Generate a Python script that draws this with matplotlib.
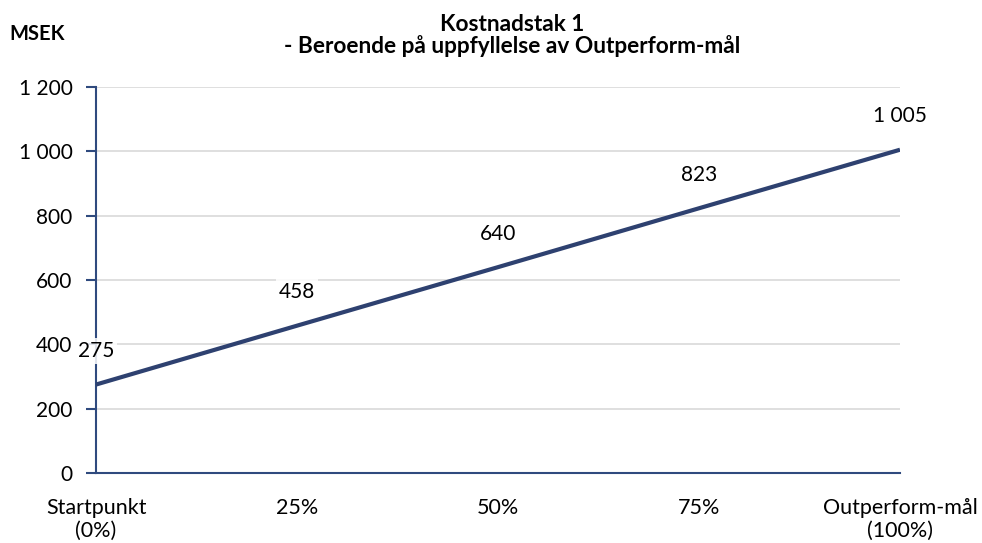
import matplotlib
matplotlib.use('Agg')
import matplotlib.pyplot as plt
from matplotlib.ticker import FuncFormatter

plt.rcParams['font.family'] = ['Lato', 'DejaVu Sans']

# data
categories = ['Startpunkt\n(0%)', '25%', '50%', '75%', 'Outperform-mål\n(100%)']
values = [275, 458, 640, 823, 1005]
yticks = [0, 200, 400, 600, 800, 1000, 1200]

navy = '#2E4170'
axcol = '#2F4A7E'

def thousands(v, pos):
    return '{:,}'.format(int(v)).replace(',', ' ')

fig = plt.figure(figsize=(9.82, 5.43), dpi=100)
ax = fig.add_axes([0.0978, 0.1289, 0.8187, 0.7109])

x = list(range(len(values)))
ax.plot(x, values, color=navy, lw=3, solid_capstyle='butt', zorder=3)

for xi, v in zip(x, values):
    ax.annotate(thousands(v, None), (xi, v), xytext=(0, 24), textcoords='offset points',
                ha='center', va='center', fontsize=15, zorder=6,
                bbox=dict(boxstyle='square,pad=0.15', fc='white', ec='none', alpha=0.85))

ax.set_xlim(0, 4)
ax.set_ylim(0, 1200)
ax.set_yticks(yticks)
ax.yaxis.set_major_formatter(FuncFormatter(thousands))
ax.set_xticks(x)
ax.set_xticklabels(categories, fontsize=15.5, linespacing=1.15)
ax.tick_params(axis='x', length=0, pad=18)
ax.tick_params(axis='y', length=7, width=1.5, color=axcol, labelsize=15, pad=10, direction='out')

ax.grid(axis='y', color='#D9D9D9', lw=1.2, zorder=0)
ax.set_axisbelow(True)
for s in ['top', 'right']:
    ax.spines[s].set_visible(False)
for s in ['left', 'bottom']:
    ax.spines[s].set_color(axcol)
    ax.spines[s].set_linewidth(1.5)
    ax.spines[s].set_zorder(2)

fig.text(0.522, 0.975, 'Kostnadstak 1\n- Beroende på uppfyllelse av Outperform-mål',
         ha='center', va='top', fontsize=16.3, fontweight='bold', linespacing=1.0)
fig.text(0.01, 0.938, 'MSEK', ha='left', va='center', fontsize=14.5, fontweight='bold')

fig.savefig('out.png', dpi=100)
